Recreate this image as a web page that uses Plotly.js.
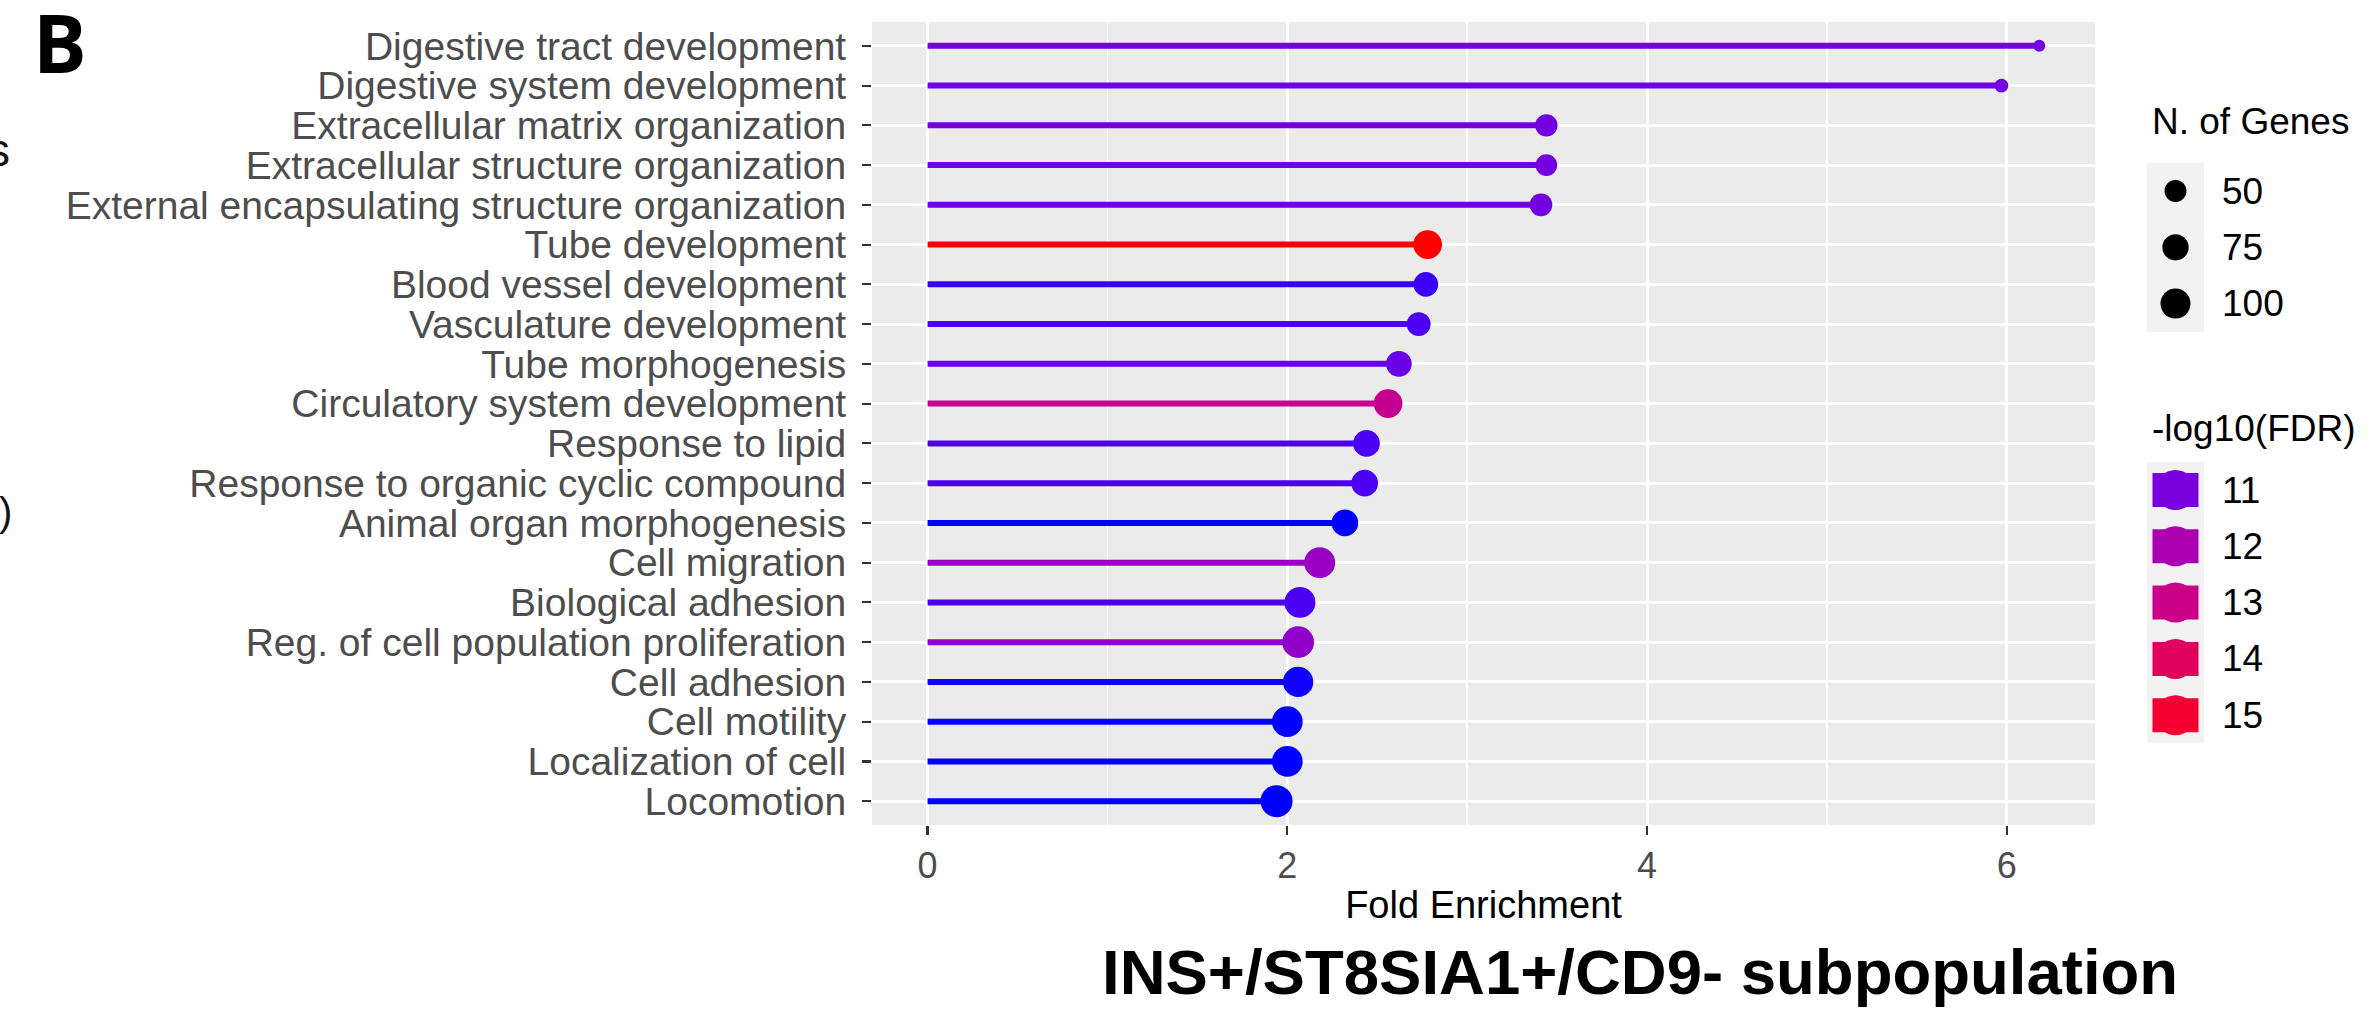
<!DOCTYPE html>
<html><head><meta charset="utf-8">
<script src="https://cdn.plot.ly/plotly-3.0.1.min.js"></script>
<style>html,body{margin:0;padding:0;background:#fff;} #chart{width:2377px;height:1013px;}</style>
</head><body><div id="chart"></div>
<script>
// ---------------- data ----------------
const terms = [
  "Digestive tract development",
  "Digestive system development",
  "Extracellular matrix organization",
  "Extracellular structure organization",
  "External encapsulating structure organization",
  "Tube development",
  "Blood vessel development",
  "Vasculature development",
  "Tube morphogenesis",
  "Circulatory system development",
  "Response to lipid",
  "Response to organic cyclic compound",
  "Animal organ morphogenesis",
  "Cell migration",
  "Biological adhesion",
  "Reg. of cell population proliferation",
  "Cell adhesion",
  "Cell motility",
  "Localization of cell",
  "Locomotion"
];
const foldEnrichment = [6.18, 5.97, 3.44, 3.44, 3.41, 2.78, 2.77, 2.73, 2.62, 2.56, 2.44, 2.43, 2.32, 2.18, 2.07, 2.06, 2.06, 2.00, 2.00, 1.94];
const nGenes = [12, 17, 52, 49, 54, 91, 65, 61, 71, 91, 77, 77, 77, 107, 107, 113, 102, 105, 105, 115];
const log10FDR = [10.9, 10.9, 10.9, 10.9, 10.9, 15.7, 10.4, 10.5, 10.8, 12.8, 10.5, 10.5, 10.23, 11.6, 10.5, 11.4, 10.25, 10.23, 10.23, 10.23];
const xTicks = [0, 2, 4, 6];
const sizeLegendValues = [50, 75, 100];
const colorLegendValues = [11, 12, 13, 14, 15];
const colorMin = 10.23, colorMax = 15.71;

// ---------------- colour scale (Lab interpolation blue -> red) ----------------
function srgbToLin(c){c/=255; return c<=0.04045? c/12.92 : Math.pow((c+0.055)/1.055,2.4);}
function linToSrgb(c){c=Math.max(0,Math.min(1,c)); const v=c<=0.0031308?12.92*c:1.055*Math.pow(c,1/2.4)-0.055; return Math.round(v*255);}
function rgbToLab(r,g,b){
  const R=srgbToLin(r),G=srgbToLin(g),B=srgbToLin(b);
  const X=(0.4124*R+0.3576*G+0.1805*B)/0.95047, Y=(0.2126*R+0.7152*G+0.0722*B), Z=(0.0193*R+0.1192*G+0.9505*B)/1.08883;
  const f=t=>t>0.008856?Math.cbrt(t):7.787*t+16/116;
  const fx=f(X),fy=f(Y),fz=f(Z);
  return [116*fy-16,500*(fx-fy),200*(fy-fz)];
}
function labToRgb(L,a,b){
  const fy=(L+16)/116, fx=fy+a/500, fz=fy-b/200;
  const finv=t=>t*t*t>0.008856?t*t*t:(t-16/116)/7.787;
  const X=finv(fx)*0.95047, Y=finv(fy), Z=finv(fz)*1.08883;
  const R=3.2406*X-1.5372*Y-0.4986*Z, G=-0.9689*X+1.8758*Y+0.0415*Z, B=0.0557*X-0.2040*Y+1.0570*Z;
  return 'rgb('+linToSrgb(R)+','+linToSrgb(G)+','+linToSrgb(B)+')';
}
const labLow=rgbToLab(0,0,255), labHigh=rgbToLab(255,0,0);
function fdrColor(v){
  let t=(v-colorMin)/(colorMax-colorMin); t=Math.max(0,Math.min(1,t));
  return labToRgb(labLow[0]+t*(labHigh[0]-labLow[0]), labLow[1]+t*(labHigh[1]-labLow[1]), labLow[2]+t*(labHigh[2]-labLow[2]));
}
function dotSize(n){ return 2.5 + 2.75*Math.sqrt(n); }

// ---------------- geometry helpers (layout only) ----------------
const W=2377, H=1013, ML=872, MR=0, MT=22, MB=188;
const PW=W-ML-MR, PH=H-MT-MB;
const px=x=>(x-ML)/PW, py=y=>(H-MB-y)/PH;
const mainRight=2095;

const FONT="Liberation Sans, Arial, sans-serif";
const traces=[];
terms.forEach((t,i)=>{
  traces.push({type:'scatter',mode:'lines',x:[0,foldEnrichment[i]],y:[t,t],
    line:{color:fdrColor(log10FDR[i]),width:6},hoverinfo:'skip',showlegend:false,xaxis:'x',yaxis:'y'});
});
traces.push({type:'scatter',mode:'markers',x:foldEnrichment,y:terms,
  marker:{size:nGenes.map(dotSize),color:log10FDR.map(fdrColor),opacity:1,line:{width:0}},
  showlegend:false,xaxis:'x',yaxis:'y'});

// legend (drawn on a helper pixel-scaled axis pair)
const sizeY0=191, fdrY0=490, keyStep=56.3, keyX=2175.5;
traces.push({type:'scatter',mode:'markers',x:sizeLegendValues.map(()=>keyX),
  y:sizeLegendValues.map((v,i)=>sizeY0+i*keyStep),
  marker:{size:sizeLegendValues.map(dotSize),color:'#000000',opacity:1,line:{width:0}},
  showlegend:false,hoverinfo:'skip',xaxis:'x2',yaxis:'y2'});
traces.push({type:'scatter',mode:'markers',x:colorLegendValues.map(()=>keyX),
  y:colorLegendValues.map((v,i)=>fdrY0+i*keyStep),
  marker:{size:40,color:colorLegendValues.map(fdrColor),line:{width:0}},
  showlegend:false,hoverinfo:'skip',xaxis:'x2',yaxis:'y2'});

const shapes=[
  {type:'rect',xref:'x2',yref:'y2',x0:2147,x1:2204,y0:sizeY0-keyStep/2,y1:sizeY0+2.5*keyStep,fillcolor:'#F2F2F2',line:{width:0},layer:'below'},
  {type:'rect',xref:'x2',yref:'y2',x0:2147,x1:2204,y0:fdrY0-keyStep/2,y1:fdrY0+4.5*keyStep,fillcolor:'#F2F2F2',line:{width:0},layer:'below'}
];
colorLegendValues.forEach((v,i)=>{
  const yc=fdrY0+i*keyStep;
  shapes.push({type:'rect',xref:'x2',yref:'y2',x0:2152.5,x1:2198.5,y0:yc-17,y1:yc+17,fillcolor:fdrColor(v),line:{width:0},layer:'below'});
});

const annotations=[];
annotations.push({xref:'x2',yref:'y2',x:2150,y:121,text:'N. of Genes',showarrow:false,xanchor:'left',yanchor:'middle',font:{family:FONT,size:37,color:'#000'}});
annotations.push({xref:'x2',yref:'y2',x:2150,y:428,text:'-log10(FDR)',showarrow:false,xanchor:'left',yanchor:'middle',font:{family:FONT,size:37,color:'#000'}});
sizeLegendValues.forEach((v,i)=>annotations.push({xref:'x2',yref:'y2',x:2220,y:sizeY0+i*keyStep,text:String(v),showarrow:false,xanchor:'left',yanchor:'middle',font:{family:FONT,size:37,color:'#000'}}));
colorLegendValues.forEach((v,i)=>annotations.push({xref:'x2',yref:'y2',x:2220,y:fdrY0+i*keyStep,text:String(v),showarrow:false,xanchor:'left',yanchor:'middle',font:{family:FONT,size:37,color:'#000'}}));
annotations.push({xref:'paper',yref:'paper',x:px(1640),y:py(972),text:'<b>INS+/ST8SIA1+/CD9- subpopulation</b>',showarrow:false,xanchor:'center',yanchor:'middle',font:{family:FONT,size:63.5,color:'#000'}});
annotations.push({xref:'paper',yref:'paper',x:px(60),y:py(42),text:'<b>B</b>',showarrow:false,xanchor:'center',yanchor:'middle',font:{family:"Open Sans, Liberation Sans, sans-serif",size:80,color:'#000'}});
annotations.push({xref:'paper',yref:'paper',x:px(12),y:py(150),text:'s',showarrow:false,xanchor:'right',yanchor:'middle',font:{family:FONT,size:46,color:'#111'}});
annotations.push({xref:'paper',yref:'paper',x:px(14),y:py(512),text:')',showarrow:false,xanchor:'right',yanchor:'middle',font:{family:FONT,size:40,color:'#111'}});

const layout={
  width:W,height:H,margin:{l:ML,r:MR,t:MT,b:MB,pad:0},
  paper_bgcolor:'#FFFFFF',plot_bgcolor:'rgba(0,0,0,0)',
  showlegend:false,font:{family:FONT},
  xaxis:{domain:[0,(mainRight-ML)/PW],range:[-0.309,6.49],tickmode:'array',tickvals:xTicks,ticktext:xTicks.map(String),
    ticks:'outside',ticklen:9,tickwidth:2.2,tickcolor:'#333333',
    tickfont:{family:FONT,size:36,color:'#4D4D4D'},
    showgrid:true,gridcolor:'#FFFFFF',gridwidth:3,zeroline:false,showline:false,
    minor:{dtick:1,tick0:0,showgrid:true,gridcolor:'#FFFFFF',gridwidth:1.5,ticks:''},
    title:{text:'Fold Enrichment',font:{family:FONT,size:38,color:'#000'},standoff:6},
    fixedrange:true,anchor:'y'},
  yaxis:{domain:[0,1],type:'category',categoryorder:'array',categoryarray:terms,range:[terms.length-0.4,-0.6],
    tickmode:'array',tickvals:terms,ticktext:terms,
    ticks:'outside',ticklen:9,tickwidth:2.2,tickcolor:'#333333',ticklabelstandoff:8,
    tickfont:{family:FONT,size:39,color:'#4D4D4D'},
    showgrid:true,gridcolor:'#FFFFFF',gridwidth:3,zeroline:false,showline:false,fixedrange:true,anchor:'x'},
  xaxis2:{domain:[(2100-ML)/PW,1],range:[2100,2377],visible:false,fixedrange:true,anchor:'y2'},
  yaxis2:{domain:[0,1],range:[H-MB,MT],visible:false,fixedrange:true,anchor:'x2'},
  shapes:[
    {type:'rect',xref:'x domain',yref:'y domain',x0:0,x1:1,y0:0,y1:1,fillcolor:'#EBEBEB',line:{width:0},layer:'below'}
  ].concat(shapes),
  annotations:annotations
};
Plotly.newPlot('chart',traces,layout,{displayModeBar:false,staticPlot:true});
</script></body></html>
